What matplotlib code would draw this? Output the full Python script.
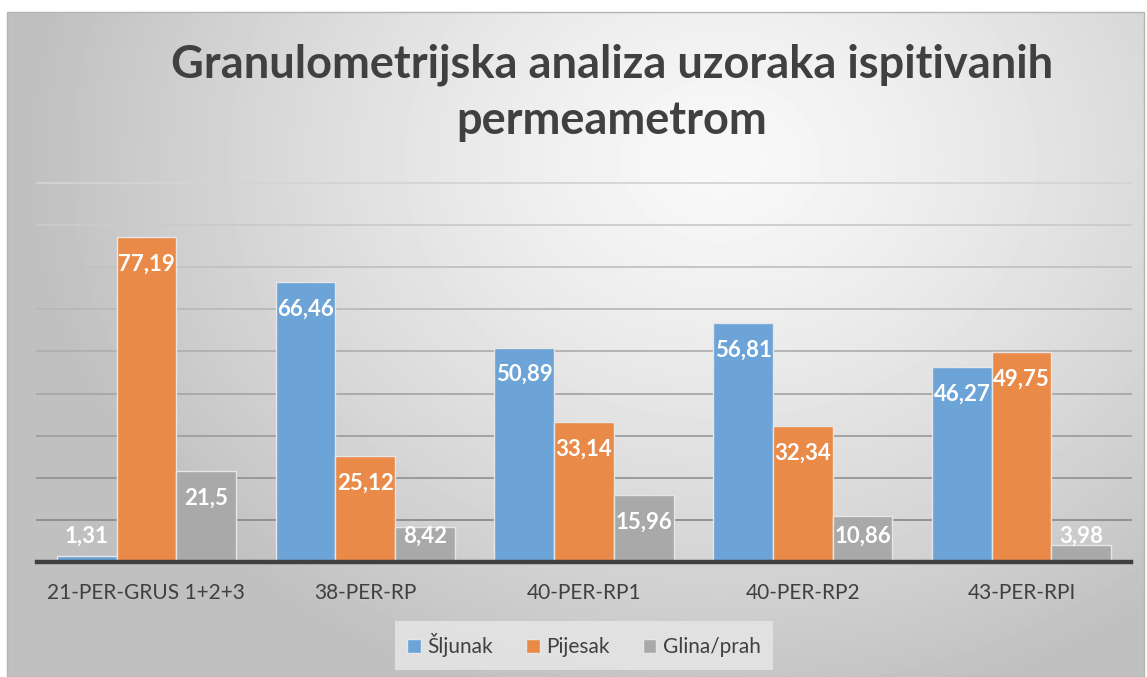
import numpy as np
import matplotlib
matplotlib.use("Agg")
import matplotlib.pyplot as plt
from matplotlib.patches import Rectangle, Patch

plt.rcParams['font.family'] = ['Lato', 'DejaVu Sans']

categories = ["21-PER-GRUS 1+2+3", "38-PER-RP", "40-PER-RP1", "40-PER-RP2", "43-PER-RPI"]
series_names = ["Šljunak", "Pijesak", "Glina/prah"]
sljunak = [1.31, 66.46, 50.89, 56.81, 46.27]
pijesak = [77.19, 25.12, 33.14, 32.34, 49.75]
glina = [21.5, 8.42, 15.96, 10.86, 3.98]
labels_sljunak = ["1,31", "66,46", "50,89", "56,81", "46,27"]
labels_pijesak = ["77,19", "25,12", "33,14", "32,34", "49,75"]
labels_glina = ["21,5", "8,42", "15,96", "10,86", "3,98"]
title = "Granulometrijska analiza uzoraka ispitivanih\npermeametrom"

colors = ["#6CA4D8", "#EA8A48", "#A9A9A9"]
W, H = 1147, 677
fig = plt.figure(figsize=(W / 100, H / 100), dpi=100, facecolor="white")

# background gradient panel
fx0, fy0, fx1, fy1 = 7, 12, 1144, 677
bg = fig.add_axes([fx0 / W, 1 - fy1 / H, (fx1 - fx0) / W, (fy1 - fy0) / H], zorder=0)
yy, xx = np.mgrid[fy0:fy1, fx0:fx1]
r = np.sqrt(((xx - 720) / 660.0) ** 2 + ((yy - 160) / 540.0) ** 2)
val = np.clip(0.975 - 0.21 * r ** 1.3, 0.75, 1.0)
bg.imshow(val, cmap="gray", vmin=0, vmax=1, aspect="auto", interpolation="bilinear")
bg.set_axis_off()
fig.patches.append(Rectangle((fx0 / W, 0), (fx1 - fx0) / W, (fy1 - fy0) / H,
                             transform=fig.transFigure, fill=False,
                             edgecolor="#b4b4b4", linewidth=1.0, zorder=1))

# plot axes
px0, px1, base, top = 37, 1131, 562, 183
ax = fig.add_axes([px0 / W, 1 - base / H, (px1 - px0) / W, (base - top) / H], zorder=2)
ax.patch.set_alpha(0)
ax.set_xlim(-0.5, len(categories) - 0.5)
ax.set_ylim(0, 90)
for s in ax.spines.values():
    s.set_visible(False)
ax.set_yticks([])

levels = np.arange(10, 100, 10)
gcols = np.linspace(0.55, 0.83, len(levels))
for lv, gc in zip(levels, gcols):
    ax.axhline(lv, color=str(gc), linewidth=1.3, zorder=1, clip_on=False)
ax.axhline(0, color="#404040", linewidth=3.2, zorder=4, clip_on=False)

x = np.arange(len(categories))
w = 0.273
all_vals = [sljunak, pijesak, glina]
all_labels = [labels_sljunak, labels_pijesak, labels_glina]
for j, (vals, labs, col, name) in enumerate(zip(all_vals, all_labels, colors, series_names)):
    pos = x + (j - 1) * w
    ax.bar(pos, vals, width=w, color=col, edgecolor="#e6e6e6", linewidth=1.0,
           zorder=3, label=name)
    for p, v, lab in zip(pos, vals, labs):
        ly = max(v - 6.4, 6.2)
        ax.text(p, ly, lab, ha="center", va="center", color="white",
                fontsize=16, fontweight="bold", zorder=5)

ax.set_xticks(x)
ax.set_xticklabels(categories, fontsize=15, color="#404040")
ax.tick_params(axis="x", length=0, pad=15)

handles = [Patch(facecolor=c, edgecolor="#e6e6e6", label=n) for c, n in zip(colors, series_names)]
leg = fig.legend(handles=handles, loc="center", bbox_to_anchor=(584 / W, 1 - 645 / H),
                 ncol=3, frameon=True, fontsize=15, handlelength=0.65, handleheight=0.65,
                 handletextpad=0.3, columnspacing=1.6, borderpad=0.6, fancybox=False,
                 labelcolor="#404040")
leg.get_frame().set_facecolor("#e4e4e4")
leg.get_frame().set_edgecolor("none")
leg.get_frame().set_alpha(0.9)
leg.set_zorder(6)

fig.text(612 / W, 1 - 93 / H, title, ha="center", va="center", fontsize=32.5,
         fontweight="bold", color="#404040", linespacing=1.42, zorder=6)

fig.savefig("out.png", dpi=100, facecolor="white")
